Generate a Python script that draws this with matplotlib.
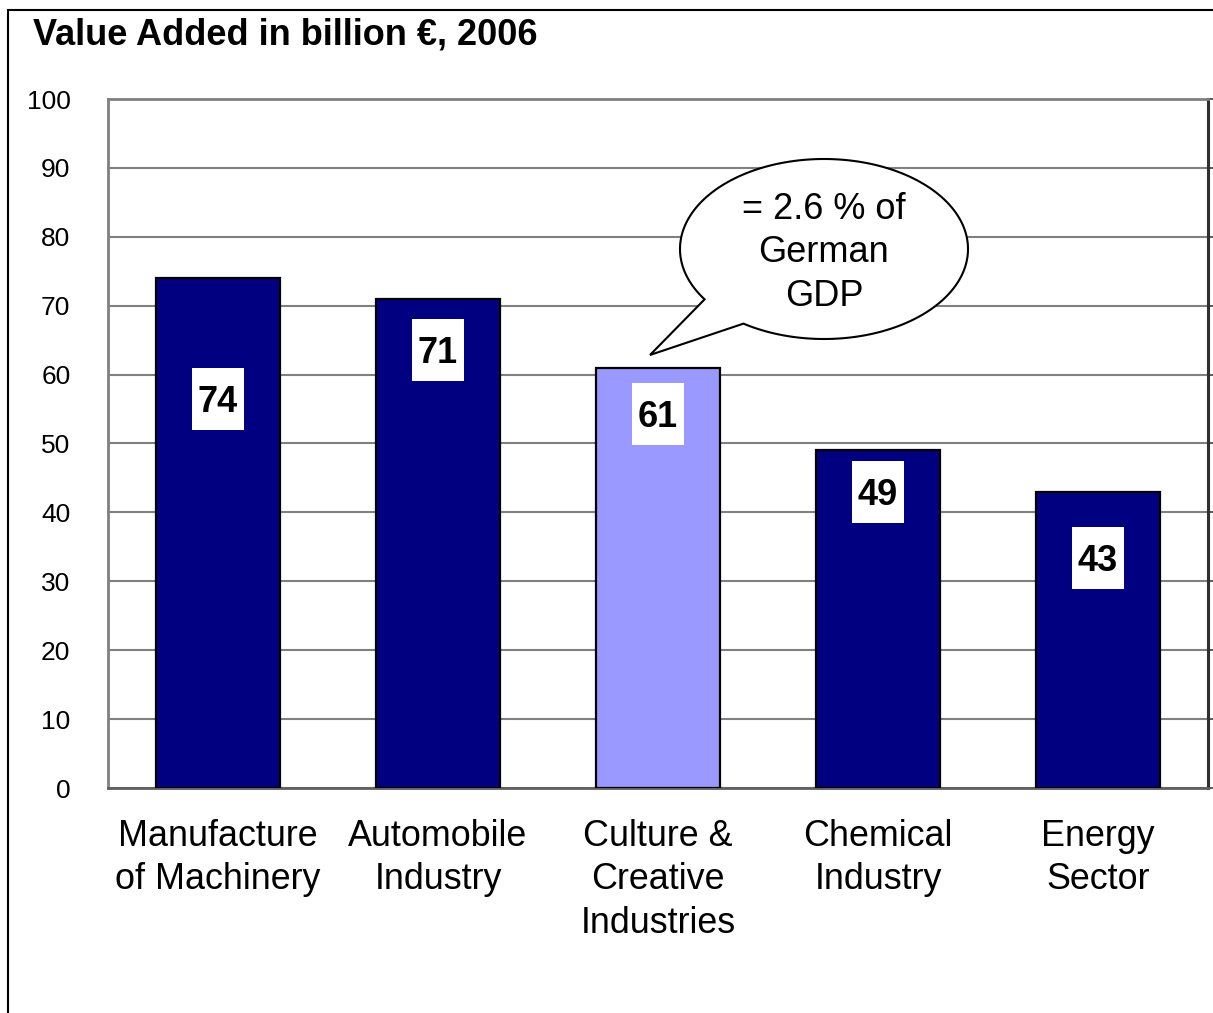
import numpy as np
import matplotlib
matplotlib.use("Agg")
import matplotlib.pyplot as plt
from matplotlib.patches import Polygon, Rectangle

plt.rcParams['font.family'] = ['Liberation Sans', 'DejaVu Sans']

# Data
categories = ["Manufacture\nof Machinery", "Automobile\nIndustry",
              "Culture &\nCreative\nIndustries", "Chemical\nIndustry",
              "Energy\nSector"]
values = [74, 71, 61, 49, 43]
highlight = [False, False, True, False, False]
y_ticks = [0, 10, 20, 30, 40, 50, 60, 70, 80, 90, 100]
title = "Value Added in billion €, 2006"
callout_text = "= 2.6 % of\nGerman\nGDP"

W, H = 1213, 1013
fig = plt.figure(figsize=(W / 100, H / 100), dpi=100)
fig.patch.set_facecolor("white")

def fx(px):
    return px / W

def fy(py):
    return 1 - py / H

ax = fig.add_axes([fx(108), fy(788), fx(1208) - fx(108), fy(99) - fy(788)])

x = np.arange(len(categories))
colors = ["#9999FF" if h else "#000080" for h in highlight]
ax.bar(x, values, width=0.56, color=colors, edgecolor="black",
       linewidth=1.6, zorder=3)

ax.set_xlim(-0.5, len(categories) - 0.5)
ax.set_ylim(0, 100)
ax.set_yticks(y_ticks)
ax.set_yticklabels([str(t) for t in y_ticks], fontsize=19)
ax.set_xticks(x)
ax.set_xticklabels(categories, fontsize=25.8, linespacing=1.33)
ax.tick_params(axis="x", length=0, pad=22)
ax.tick_params(axis="y", left=False, right=True, direction="out",
               length=5, width=1.2, color="#404040", pad=22)

ax.grid(axis="y", color="#808080", linewidth=1.5, zorder=0)
ax.set_axisbelow(True)
for side in ["left", "top"]:
    ax.spines[side].set_color("#808080")
    ax.spines[side].set_linewidth(2)
ax.spines["bottom"].set_color("#606060")
ax.spines["bottom"].set_linewidth(2)
ax.spines["right"].set_color("#303030")
ax.spines["right"].set_linewidth(2.2)

# Value labels in white boxes inside the bars
label_y = [56.5, 63.6, 54.3, 43.0, 33.4]
box_w, box_h = 0.232, 9.0
for xi, v, ly in zip(x, values, label_y):
    ax.add_patch(Rectangle((xi - box_w / 2, ly - box_h / 2), box_w, box_h,
                           facecolor="white", edgecolor="none", zorder=4))
    ax.text(xi, ly, str(v), ha="center", va="center_baseline", fontsize=26,
            fontweight="bold", color="black", zorder=5)

# Title
fig.text(fx(33), fy(35), title, fontsize=26, fontweight="bold",
         ha="left", va="center")

# Speech bubble callout (pixel geometry converted to figure fractions)
cx, cy, a, b = 824, 249, 144, 90
t1 = np.deg2rad(124)
t2 = np.deg2rad(146 - 360)
th = np.linspace(t1, t2, 300)
px = cx + a * np.cos(th)
py = cy + b * np.sin(th)
tip = (650, 355)
pts = [(fx(u), fy(v)) for u, v in zip(px, py)] + [(fx(tip[0]), fy(tip[1]))]
bubble = Polygon(pts, closed=True, facecolor="white", edgecolor="black",
                 linewidth=1.5, transform=fig.transFigure, zorder=10)
fig.patches.append(bubble)
fig.text(fx(824), fy(253), callout_text, fontsize=26, ha="center",
         va="center", linespacing=1.33, zorder=11)

# Outer frame
fig.patches.append(Rectangle((fx(8), fy(1030)), fx(1240) - fx(8),
                             fy(10) - fy(1030), fill=False,
                             edgecolor="black", linewidth=1.5,
                             transform=fig.transFigure, zorder=1))

fig.savefig("out.png", dpi=100)
